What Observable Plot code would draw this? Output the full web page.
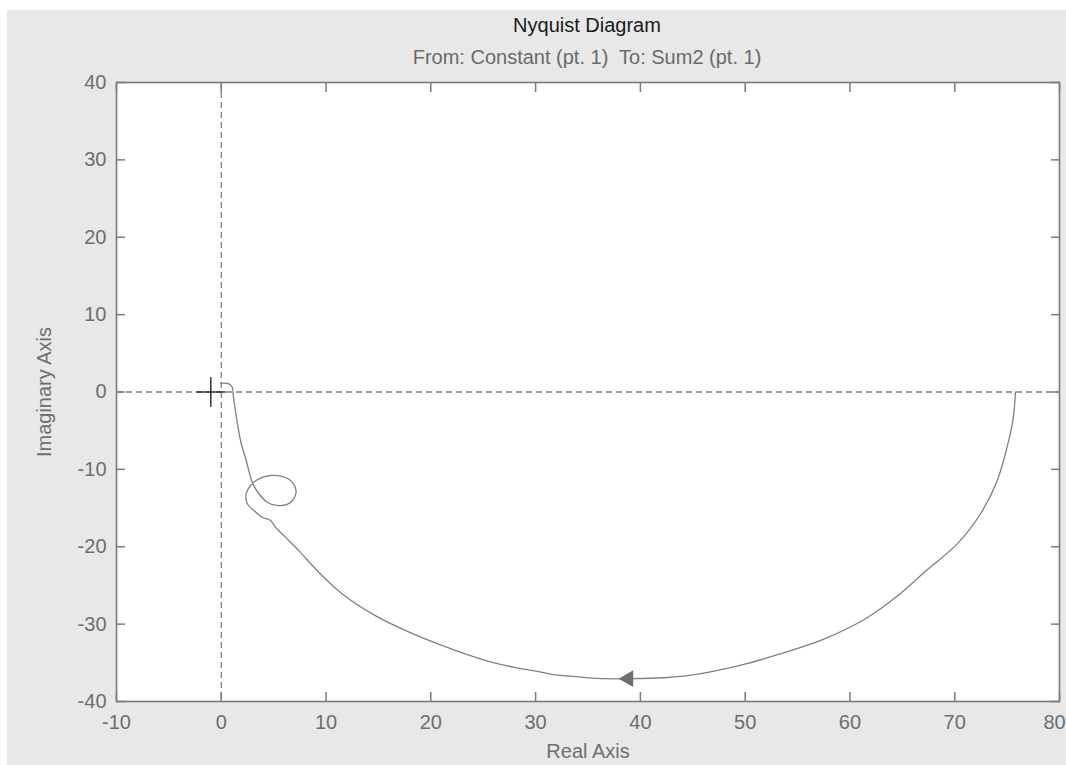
<!DOCTYPE html>
<html>
<head>
<meta charset="utf-8">
<script src="https://cdn.jsdelivr.net/npm/d3@7"></script>
<script src="https://cdn.jsdelivr.net/npm/@observablehq/plot@0.6"></script>
<style>
  html, body { margin: 0; padding: 0; background: #ffffff; }
  #page { position: relative; width: 1066px; height: 765px; overflow: hidden; background: #ffffff; }
  #panel { position: absolute; left: 7px; top: 10px; width: 1059px; height: 755px; background: #e8e8e8; }
  .ttl { position: absolute; left: 0; width: 1174px; text-align: center; font-family: "Liberation Sans", Arial, sans-serif; font-size: 20px; line-height: 20px; white-space: pre; }
  #title { top: 15px; color: #1a1a1a; }
  #subtitle { top: 47px; color: #6a6a6a; }
  #chart { position: absolute; left: 0; top: 70px; }
</style>
</head>
<body>
<div id="page">
  <div id="panel"></div>
  <div id="title" class="ttl">Nyquist Diagram</div>
  <div id="subtitle" class="ttl">From: Constant (pt. 1)  To: Sum2 (pt. 1)</div>
  <div id="chart"></div>
</div>
<script>
// Nyquist curve, from ω = 0 (right) toward the origin
const re = [75.8, 75.55, 75.0, 74.07, 72.48, 70.26, 67.1, 64.5, 61.36, 57.4, 53.43, 49.6, 44.86, 42.6, 38.8, 36.6, 34.38, 32.16, 30.5, 28.0, 25.8, 23.4, 21.05, 17.87, 14.7, 11.52, 9.3, 7.4, 6.12, 5.17, 4.70, 3.9, 3.11, 2.48, 2.38, 2.79, 3.59, 4.70, 5.81, 6.76, 7.14, 6.92, 6.29, 5.33, 4.38, 3.59, 2.95, 2.38, 1.84, 1.3, 1.15, 1.05, 0.73, -0.07];
const im = [0, -3.7, -7.1, -11.4, -15.7, -19.6, -23.3, -26.4, -29.4, -32.0, -33.8, -35.3, -36.6, -36.9, -37.05, -37.05, -36.85, -36.6, -36.2, -35.6, -34.9, -33.9, -32.75, -31.0, -28.9, -26.07, -23.3, -20.5, -18.76, -17.47, -16.6, -16.18, -15.31, -14.44, -13.15, -12.08, -11.22, -10.79, -10.92, -11.65, -12.73, -13.8, -14.53, -14.66, -14.24, -13.15, -11.65, -8.85, -6.3, -1.96, -0.5, 0.62, 1.06, 1.14];
// direction arrow
const arrowRe = [38.85];
const arrowIm = [-37.05];
// critical point -1 + 0j
const critRe = [-1];
const critIm = [0];
// ticks
const xTicks = [-10, 0, 10, 20, 30, 40, 50, 60, 70, 80];
const xTickLabels = ["-10", "0", "10", "20", "30", "40", "50", "60", "70", "80"];
const yTicks = [-40, -30, -20, -10, 0, 10, 20, 30, 40];
const yTickLabels = ["-40", "-30", "-20", "-10", "0", "10", "20", "30", "40"];
const xDomain = [-10, 80];
const yDomain = [-40, 40];

const curve = re.map((r, i) => ({re: r, im: im[i]}));
const arrow = arrowRe.map((r, i) => ({re: r, im: arrowIm[i]}));
const crit = critRe.map((r, i) => ({re: r, im: critIm[i]}));
const xFmt = (d) => xTickLabels[xTicks.indexOf(d)];
const yFmt = (d) => yTickLabels[yTicks.indexOf(d)];

const axisColor = "#7a7a7a";
const textColor = "#6e6e6e";
const lastX = xTicks[xTicks.length - 1];

const chart = Plot.plot({
  width: 1066,
  height: 695,
  marginLeft: 116,
  marginRight: 7,
  marginTop: 12,
  marginBottom: 64,
  x: {domain: xDomain},
  y: {domain: yDomain},
  style: {background: "transparent", fontFamily: "Liberation Sans, Arial, sans-serif", fontSize: "20px", overflow: "visible"},
  marks: [
    Plot.frame({fill: "white", stroke: null}),
    Plot.ruleX([0], {stroke: "#808080", strokeWidth: 1.3, strokeDasharray: "6,4"}),
    Plot.ruleY([0], {stroke: "#808080", strokeWidth: 1.3, strokeDasharray: "6,4"}),
    Plot.line(curve, {x: "re", y: "im", stroke: "#808080", strokeWidth: 1.3, curve: "catmull-rom"}),
    Plot.dot(arrow, {x: "re", y: "im", symbol: "triangle2", rotate: -90, r: 8, fill: "#6e6e6e", stroke: null}),
    Plot.dot(crit, {x: "re", y: "im", symbol: "plus", r: 9.5, stroke: "#333333", strokeWidth: 1.5}),
    // tick labels
    Plot.axisX(xTicks.filter((d) => d !== lastX), {anchor: "bottom", tickSize: 0, tickPadding: 13, color: textColor, tickFormat: xFmt, label: "Real Axis", labelAnchor: "center", labelArrow: "none", labelOffset: 56}),
    Plot.axisX([lastX], {anchor: "bottom", tickSize: 0, tickPadding: 13, color: textColor, tickFormat: xFmt, label: null, dx: -5}),
    Plot.axisY(yTicks, {anchor: "left", tickSize: 0, tickPadding: 10, color: textColor, tickFormat: yFmt, label: "Imaginary Axis", labelAnchor: "center", labelArrow: "none", labelOffset: 80}),
    // inward ticks on all four sides
    Plot.axisX(xTicks, {anchor: "bottom", tickSize: -9, tickFormat: () => "", label: null, stroke: axisColor, strokeWidth: 1.5}),
    Plot.axisX(xTicks, {anchor: "top", tickSize: -9, tickFormat: () => "", label: null, stroke: axisColor, strokeWidth: 1.5}),
    Plot.axisY(yTicks, {anchor: "left", tickSize: -9, tickFormat: () => "", label: null, stroke: axisColor, strokeWidth: 1.5}),
    Plot.axisY(yTicks, {anchor: "right", tickSize: -9, tickFormat: () => "", label: null, stroke: axisColor, strokeWidth: 1.5}),
    Plot.frame({stroke: axisColor, strokeWidth: 1.6})
  ]
});
document.getElementById("chart").appendChild(chart);
</script>
</body>
</html>
